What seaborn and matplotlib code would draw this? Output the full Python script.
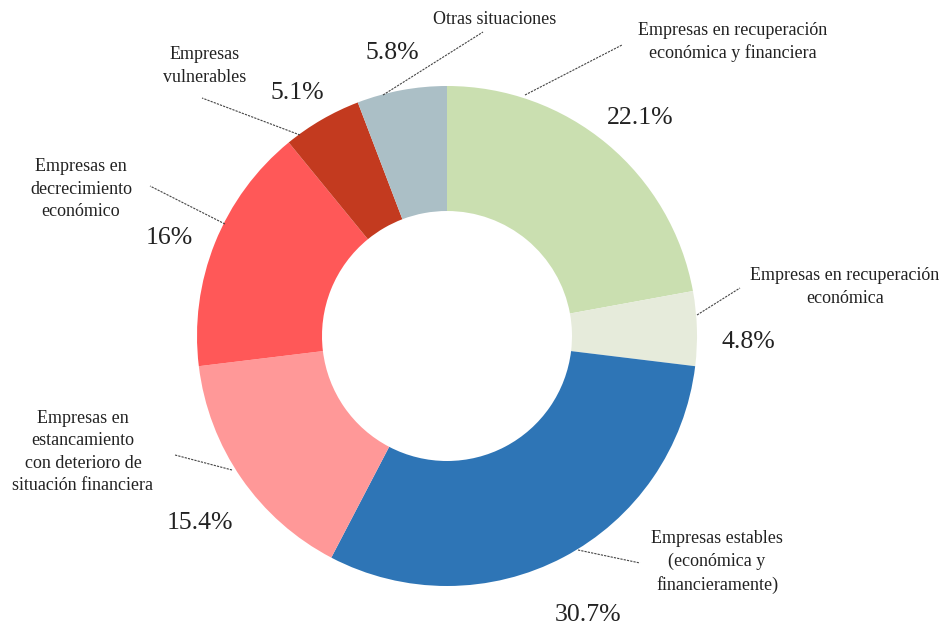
import numpy as np
import pandas as pd
import seaborn as sns

import matplotlib
matplotlib.use('Agg')
import matplotlib.pyplot as plt

categories = [
    "Empresas en recuperación\neconómica y financiera",
    "Empresas en recuperación\neconómica",
    "Empresas estables\n(económica y\nfinancieramente)",
    "Empresas en\nestancamiento\ncon deterioro de\nsituación financiera",
    "Empresas en\ndecrecimiento\neconómico",
    "Empresas\nvulnerables",
    "Otras situaciones",
]
values = [22.1, 4.8, 30.7, 15.4, 16, 5.1, 5.8]
pct_labels = ["22.1%", "4.8%", "30.7%", "15.4%", "16%", "5.1%", "5.8%"]
colors = ["#cadfb0", "#e6ebdb", "#2e75b6", "#ff9898", "#ff5858", "#c33a1f", "#abbfc6"]

sns.set_theme(style='white')
plt.rcParams['font.family'] = ['Liberation Serif', 'DejaVu Serif']

# layout in pixels of the 944x628 picture (center of donut at 447,336, radius 250)
CX, CY, R = 447, 336, 250
def px(x, y):
    return ((x - CX) / R, (CY - y) / R)

label_pos = [(733, 42), (845, 287), (717, 562), (83, 452), (81, 189), (205, 66), (495, 20)]
pct_pos = [(640, 118), (748, 342), (588, 615), (200, 523), (169, 238), (297, 93), (392, 53)]
leader = [((525, 95), (622, 45)), ((697, 315), (740, 288)), ((578, 550), (640, 563)),
          ((232, 470), (175, 455)), ((225, 224), (150, 186)), ((300, 135), (202, 98)),
          ((383, 95), (483, 32))]

fig = plt.figure(figsize=(9.44, 6.28), dpi=100)
ax = fig.add_axes([0, 0, 1, 1])

df = pd.DataFrame({"categoria": categories, "valor": values})
ax.pie(df["valor"], colors=sns.color_palette(colors), startangle=90, counterclock=False,
       radius=1, wedgeprops=dict(width=0.5, edgecolor='none'))

for lab, p in zip(df["categoria"], label_pos):
    ax.text(*px(*p), lab, ha='center', va='center', fontsize=13, color='#222222',
            linespacing=1.4)
for t, p in zip(pct_labels, pct_pos):
    ax.text(*px(*p), t, ha='center', va='center', fontsize=18.5, color='#222222')
for a, b in leader:
    xa, ya = px(*a)
    xb, yb = px(*b)
    ax.plot([xa, xb], [ya, yb], color='#444444', lw=0.8, linestyle=(0, (2, 1)))

ax.set_xlim(-CX / R, (944 - CX) / R)
ax.set_ylim(-(628 - CY) / R, CY / R)
ax.set_aspect('equal')
ax.axis('off')

plt.savefig('out.png', dpi=100)
